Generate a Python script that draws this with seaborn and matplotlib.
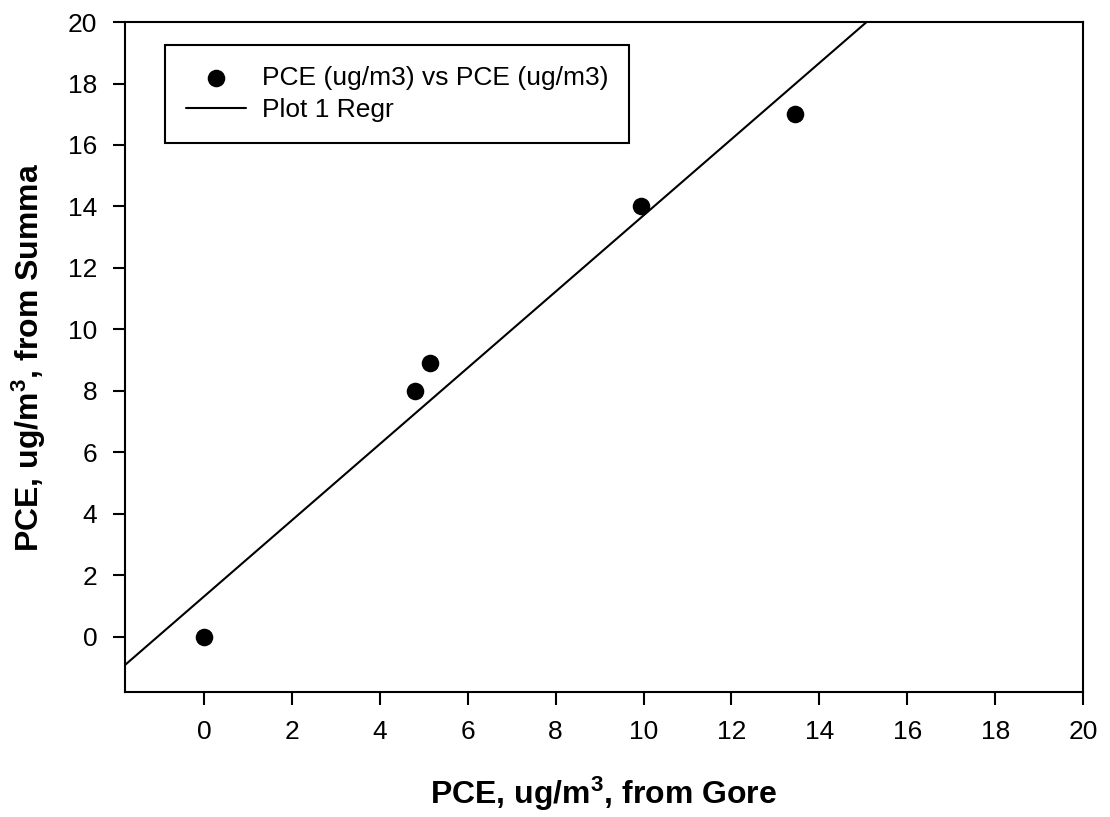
import numpy as np
import pandas as pd
import seaborn as sns
import matplotlib.pyplot as plt

# Values
gore = [0.0, 4.8, 5.15, 9.95, 13.45]
summa = [0.0, 8.0, 8.9, 14.0, 17.0]
ticks = [0, 2, 4, 6, 8, 10, 12, 14, 16, 18, 20]

df = pd.DataFrame({'Gore': gore, 'Summa': summa})

sns.set_style('ticks')
plt.rcParams['font.family'] = ['Liberation Sans', 'DejaVu Sans']
plt.rcParams['mathtext.default'] = 'regular'
plt.rcParams['text.color'] = 'black'
plt.rcParams['axes.labelcolor'] = 'black'

fig = plt.figure(figsize=(11.1, 8.17), dpi=100)
ax = fig.add_axes([0.1126, 0.153, 0.8631, 0.820])
ax.set_xlim(-1.8, 20)
ax.set_ylim(-1.8, 20)

sns.scatterplot(data=df, x='Gore', y='Summa', ax=ax, color='black', s=160,
                edgecolor='black', linewidth=0, label='PCE (ug/m3) vs PCE (ug/m3)', zorder=3)
sns.regplot(data=df, x='Gore', y='Summa', ax=ax, scatter=False, ci=None, truncate=False,
            color='black', line_kws={'linewidth': 1.5}, label='Plot 1 Regr')
ax.set_xlim(-1.8, 20)
ax.set_ylim(-1.8, 20)

ax.set_xticks(ticks)
ax.set_yticks(ticks)
ax.tick_params(direction='out', length=9, width=1.5, labelsize=19, pad=11,
               colors='black', labelcolor='black')
ax.tick_params(top=False, right=False)
for sp in ax.spines.values():
    sp.set_linewidth(1.5)
    sp.set_color('black')

ax.set_xlabel('PCE, ug/m$^3$, from Gore', fontsize=23, fontweight='bold', labelpad=22)
ax.set_ylabel('PCE, ug/m$^3$, from Summa', fontsize=23, fontweight='bold', labelpad=14)

leg = ax.legend(loc='upper left', bbox_to_anchor=(0.042, 0.966), fontsize=19, frameon=True,
                fancybox=False, edgecolor='black', framealpha=1, borderpad=0.8,
                labelspacing=0.3, handlelength=2.25, handletextpad=0.6, borderaxespad=0)
leg.get_frame().set_linewidth(1.5)

fig.savefig('out.png', dpi=100)
